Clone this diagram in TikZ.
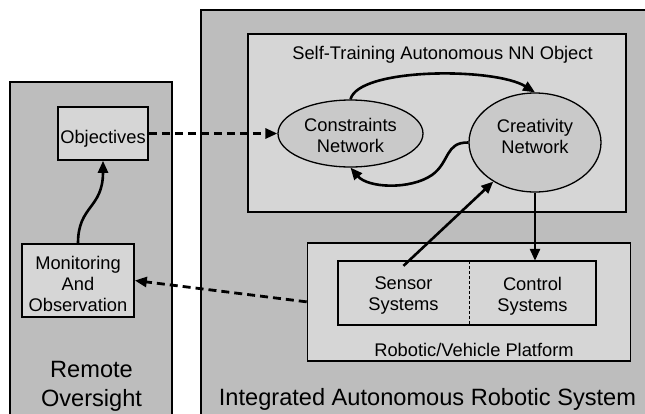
\documentclass[tikz,border=0pt]{standalone}
\usepackage{fontspec}
\setmainfont{Liberation Sans}
\usetikzlibrary{arrows.meta,shapes.geometric}
\definecolor{panelgray}{gray}{0.74}
\definecolor{boxgray}{gray}{0.84}
\definecolor{ellgray}{gray}{0.79}
\begin{document}
\begin{tikzpicture}[x=1pt,y=-1pt,
  panel/.style={draw=black,line width=2pt,fill=panelgray},
  boxx/.style={draw=black,line width=1.6pt,fill=boxgray,rectangle,inner sep=0pt},
  cell/.style={fill=boxgray,rectangle,inner sep=0pt,minimum height=64pt},
  ell/.style={draw=black,line width=1.3pt,fill=ellgray,ellipse,inner sep=0pt},
  small/.style={font=\fontsize{18.3}{21}\selectfont,align=center},
  big/.style={font=\fontsize{23.6}{29}\selectfont,align=center},
  arr/.style={line width=2.6pt,-{Triangle[length=12pt,width=10pt]}},
  dasharr/.style={line width=2.8pt,dash pattern=on 8pt off 5pt,-{Triangle[length=12pt,width=10pt]}}
]
\useasboundingbox (0,0) rectangle (645,413);
% panels
\draw[panel] (10,81.7) rectangle (172,430);
\draw[panel] (200.7,10) rectangle (670,430);
% left side boxes
\node[boxx,minimum width=90pt,minimum height=53pt,
  label={[small,yshift=-5pt]center:Objectives}] (obj) at (103,133.5) {};
\node[boxx,minimum width=112pt,minimum height=73pt,
  label={[small,yshift=-3.5pt]center:Monitoring\\And\\Observation}] (mon) at (78,280.5) {};
\node[big] (remote) at (91.5,386.5) {Remote\\Oversight};
% right side boxes
\node[boxx,minimum width=378pt,minimum height=178pt] (selfbox) at (437,123) {};
\node[small,anchor=base] (selftitle) at (442.5,59.5) {Self-Training Autonomous NN Object};
\node[boxx,minimum width=323pt,minimum height=118.3pt] (plat) at (469,301.85) {};
\node[small,anchor=base] (platlbl) at (474,356) {Robotic/Vehicle Platform};
\node[cell,minimum width=131pt,
  label={[small,yshift=-3pt]center:Sensor\\Systems}] (sensor) at (403.5,293) {};
\node[cell,minimum width=127pt,
  label={[small,yshift=-3pt]center:Control\\Systems}] (control) at (532.5,293) {};
\draw[line width=1.6pt] (sensor.north west) rectangle (control.south east);
\draw[line width=1pt,dash pattern=on 3pt off 2pt] (sensor.north east) -- (sensor.south east);
\node[ell,minimum width=145pt,minimum height=67pt,
  label={[small,yshift=-2pt]center:Constraints\\Network}] (cons) at (350.5,133.5) {};
\node[ell,minimum width=132pt,minimum height=99pt,
  label={[small,yshift=6.5pt]center:Creativity\\Network}] (crea) at (535,142.5) {};
\node[big,anchor=base] (iars) at (427.5,405) {Integrated Autonomous Robotic System};
% connectors
\draw[dasharr] (obj.east) -- (cons.west);
\draw[dasharr] (plat.west) -- (mon.east);
\draw[arr] (mon.north) .. controls +(0,-38) and +(0,48) .. (obj.south);
\draw[arr] (cons.north) .. controls +(8,-32) and +(-40,-25) .. (crea.north);
\draw[arr] (crea.west) .. controls (445,142) and (450,162) .. (432,175)
  .. controls (410,190) and (368,188) .. (cons.south);
\draw[arr] ([yshift=-5pt]sensor.north) -- (crea);
\draw[arr] (crea.south) -- (crea.south |- control.north);
\end{tikzpicture}
\end{document}
